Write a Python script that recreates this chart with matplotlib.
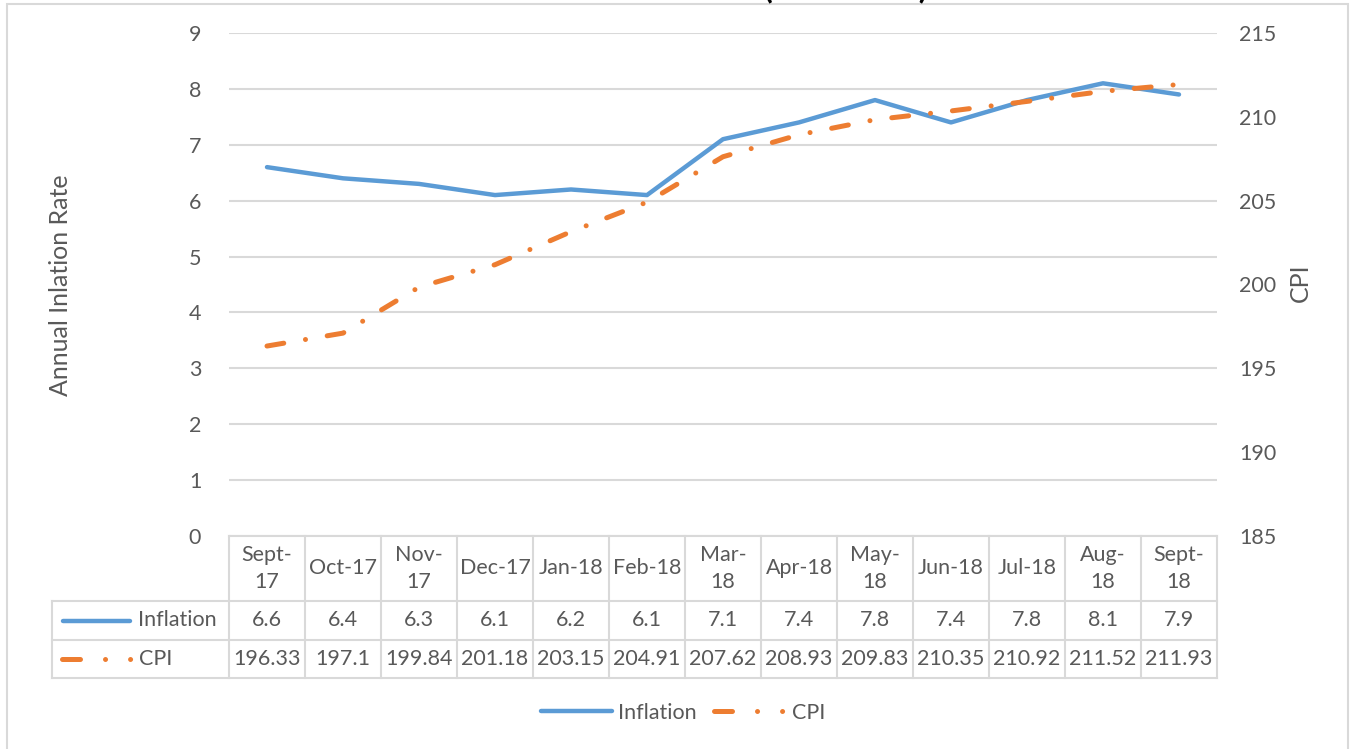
import matplotlib
matplotlib.use("Agg")
import matplotlib.pyplot as plt
import matplotlib.transforms as mtransforms
from matplotlib.patches import Rectangle
from matplotlib.lines import Line2D

plt.rcParams['font.family'] = ['Lato', 'DejaVu Sans']

months = ["Sept-\n17", "Oct-17", "Nov-\n17", "Dec-17", "Jan-18", "Feb-18", "Mar-\n18",
          "Apr-18", "May-\n18", "Jun-18", "Jul-18", "Aug-\n18", "Sept-\n18"]
inflation = [6.6, 6.4, 6.3, 6.1, 6.2, 6.1, 7.1, 7.4, 7.8, 7.4, 7.8, 8.1, 7.9]
cpi = [196.33, 197.1, 199.84, 201.18, 203.15, 204.91, 207.62, 208.93, 209.83,
       210.35, 210.92, 211.52, 211.93]
cpi_text = ["196.33", "197.1", "199.84", "201.18", "203.15", "204.91", "207.62",
            "208.93", "209.83", "210.35", "210.92", "211.52", "211.93"]

BLUE = "#5B9BD5"
ORANGE = "#ED7D31"
TXT = "#595959"
GRID = "#D9D9D9"
W, H = 1354, 749
FS = 15.5

fig = plt.figure(figsize=(W / 100, H / 100), dpi=100)

# outer chart border
fig.patches.append(Rectangle((7 / W, -0.01), (1348 - 7) / W, (H - 4) / H + 0.01,
                             transform=fig.transFigure, fill=False,
                             edgecolor=GRID, lw=1.5))
# title, mostly cut off above the picture
fig.text(700 / W, 1 + 1.0 / H, "Inflation Rate and CPI (2017-2018)", ha="center",
         va="baseline", fontsize=21, fontweight="black", color="black")

ax = fig.add_axes([229 / W, 1 - 536 / H, (1217 - 229) / W, (536 - 33) / H])
ax2 = ax.twinx()
n = len(months)
x = list(range(n))

ax.set_xlim(-0.5, n - 0.5)
ax.set_ylim(0, 9)
ax.set_yticks(range(0, 10))
ax2.set_ylim(185, 215)
ax2.set_yticks(range(185, 216, 5))
ax.grid(axis="y", color=GRID, lw=1.5)
ax.set_xticks([])
for a in (ax, ax2):
    for s in a.spines.values():
        s.set_visible(False)
ax.tick_params(axis="y", length=0, pad=20, labelsize=FS, labelcolor=TXT)
ax2.tick_params(axis="y", length=0, pad=16, labelsize=FS, labelcolor=TXT)

cpi_ls = (0, (3.4, 4.4, 0.01, 4.4))          # dash-dot on the chart line
key_ls = (0, (3.6, 5, 0.01, 5, 0.01, 5))     # dash-dot-dot in the keys
ax.plot(x, inflation, color=BLUE, lw=3.2, solid_capstyle="round", zorder=3)
ax2.plot(x, cpi, color=ORANGE, lw=3.6, linestyle=cpi_ls, dash_capstyle="round", zorder=3)

fig.text(60 / W, 1 - 285 / H, "Annual Inlation Rate", rotation=90, ha="center",
         va="center", fontsize=18, color=TXT)
fig.text(1300 / W, 1 - 283 / H, "CPI", rotation=90, ha="center", va="center",
         fontsize=18, color=TXT)

# data table under the plot
tr = mtransforms.blended_transform_factory(ax.transData, ax.transAxes)
ph = 536 - 33
y_top, y_h, y_r, y_b = 0.0, -65 / ph, -104 / ph, -142 / ph
px = 13 / (1217 - 229)
x_lab = -0.5 - (229 - 52) * px

def tline(xs, ys):
    ax.add_line(Line2D(xs, ys, transform=tr, color=GRID, lw=1.5, clip_on=False))

tline([-0.5, n - 0.5], [y_top, y_top])
for yy in (y_h, y_r, y_b):
    tline([x_lab, n - 0.5], [yy, yy])
tline([x_lab, x_lab], [y_h, y_b])
for i in range(n + 1):
    tline([i - 0.5, i - 0.5], [y_top, y_b])

for i in range(n):
    ax.text(i, (y_top + y_h) / 2, months[i], transform=tr, ha="center", va="center",
            fontsize=FS, color=TXT, linespacing=1.45)
    ax.text(i, (y_h + y_r) / 2, f"{inflation[i]}", transform=tr, ha="center",
            va="center", fontsize=FS, color=TXT)
    ax.text(i, (y_r + y_b) / 2, cpi_text[i], transform=tr, ha="center",
            va="center", fontsize=FS, color=TXT)

ax.add_line(Line2D([-0.5 - 166 * px, -0.5 - 99 * px], [(y_h + y_r) / 2] * 2,
                   transform=tr, color=BLUE, lw=3.2, solid_capstyle="round", clip_on=False))
ax.add_line(Line2D([-0.5 - 167 * px, -0.5 - 98 * px], [(y_r + y_b) / 2] * 2,
                   transform=tr, color=ORANGE, lw=3.6, linestyle=key_ls,
                   dash_capstyle="round", clip_on=False))
ax.text(-0.5 - 91 * px, (y_h + y_r) / 2, "Inflation", transform=tr, ha="left",
        va="center", fontsize=FS, color=TXT)
ax.text(-0.5 - 90 * px, (y_r + y_b) / 2, "CPI", transform=tr, ha="left",
        va="center", fontsize=FS, color=TXT)

# bottom legend
handles = [Line2D([], [], color=BLUE, lw=3.2, solid_capstyle="round"),
           Line2D([], [], color=ORANGE, lw=3.6, linestyle=key_ls, dash_capstyle="round")]
fig.legend(handles, ["Inflation", "CPI"], loc="center", bbox_to_anchor=(683 / W, 1 - 713 / H),
           ncol=2, frameon=False, fontsize=FS, labelcolor=TXT, handlelength=3.3,
           handletextpad=0.3, columnspacing=0.8)

fig.savefig("out.png", dpi=100)
